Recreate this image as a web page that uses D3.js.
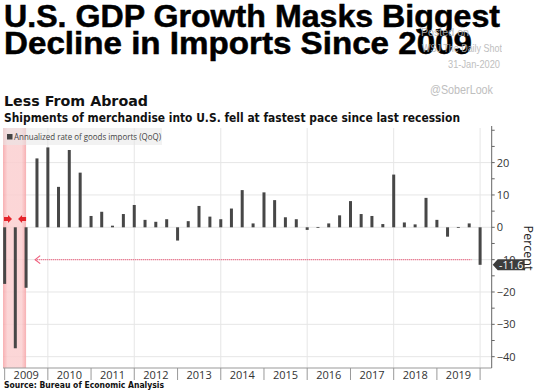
<!DOCTYPE html>
<html><head><meta charset="utf-8">
<script src="https://cdn.jsdelivr.net/npm/d3@7"></script>
<style>body{margin:0;background:#fff}svg{display:block}</style>
</head><body>
<svg id="c" width="536" height="391"></svg>
<script>
const quarters = ["2008Q4","2009Q1","2009Q2","2009Q3","2009Q4","2010Q1","2010Q2","2010Q3","2010Q4",
"2011Q1","2011Q2","2011Q3","2011Q4","2012Q1","2012Q2","2012Q3","2012Q4","2013Q1","2013Q2","2013Q3","2013Q4",
"2014Q1","2014Q2","2014Q3","2014Q4","2015Q1","2015Q2","2015Q3","2015Q4","2016Q1","2016Q2","2016Q3","2016Q4",
"2017Q1","2017Q2","2017Q3","2017Q4","2018Q1","2018Q2","2018Q3","2018Q4","2019Q1","2019Q2","2019Q3","2019Q4"];
const importsGrowth = [-17.5,-37.4,-18.7,21.3,24.7,12.5,23.9,16.9,3.5,
4.8,0.5,4.1,6.9,2.3,1.7,2.5,-4.1,1.9,6.6,3.3,2.5,
5.8,11.5,1.2,10.8,8.4,3.1,2.5,-0.8,0.1,1.2,3.7,8.1,
4.1,3.5,1.0,16.3,1.5,0.9,9.1,2.3,-2.9,0.1,1.2,-11.6];
const yearLabels = ["2009","2010","2011","2012","2013","2014","2015","2016","2017","2018","2019"];
const yTickLabels = [-40,-30,-20,-10,0,10,20];
const yMinorTicks = [-40,-35,-30,-25,-20,-15,-10,-5,0,5,10,15,20,25,30];
const lastValue = -11.6;
const referenceLevel = -10;

function qEnd(q){ const y=+q.slice(0,4), n=+q.slice(5); return new Date(y, n*3, 0); }

const svg = d3.select("#c");
const L=3, R=491.7, T=128, B=368;
const x = d3.scaleTime().domain([new Date(2008,11,17), new Date(2020,3,7)]).range([L,R]);
const y = d3.scaleLinear().domain([-43.5,30.7]).range([B,T]);

function fitText(sel, w){ sel.attr("textLength", w).attr("lengthAdjust","spacingAndGlyphs"); return sel; }

// title
const tg = svg.append("g").attr("font-family","Liberation Sans, Arial, sans-serif").attr("font-weight","bold")
  .attr("fill","#000").attr("stroke","#000").attr("stroke-width",0.5);
fitText(tg.append("text").attr("x",4).attr("y",27).attr("font-size",30.5).text("U.S. GDP Growth Masks Biggest"),496);
fitText(tg.append("text").attr("x",4).attr("y",54).attr("font-size",30.5).text("Decline in Imports Since 2009"),468);

// watermark (on top, translucent)
const wm = svg.append("g").attr("fill","#b4b4b4").attr("opacity",0.85).attr("font-family","Liberation Sans, Arial, sans-serif");
fitText(wm.append("text").attr("x",421).attr("y",36).attr("font-size",11).text("Posted on"),48);
fitText(wm.append("text").attr("x",422).attr("y",52).attr("font-size",11).text("WSJ The Daily Shot"),80);
fitText(wm.append("text").attr("x",448).attr("y",68).attr("font-size",10.5).text("31-Jan-2020"),52);
fitText(wm.append("text").attr("x",430).attr("y",94).attr("font-size",12).text("@SoberLook"),63);

fitText(svg.append("text").attr("x",4).attr("y",106).attr("font-family","DejaVu Sans, Verdana, sans-serif")
  .attr("font-weight","bold").attr("font-size",14.5).attr("fill","#111").text("Less From Abroad"),144);
fitText(svg.append("text").attr("x",4).attr("y",122).attr("font-family","DejaVu Sans, Verdana, sans-serif")
  .attr("font-weight","bold").attr("font-size",11.5).attr("fill","#111")
  .text("Shipments of merchandise into U.S. fell at fastest pace since last recession"),456);

// grid
const grid = svg.append("g");
grid.selectAll("line.h").data(yTickLabels).join("line")
  .attr("x1",L).attr("x2",R).attr("y1",d=>y(d)).attr("y2",d=>y(d)).attr("stroke","#e6e6e6").attr("stroke-width",1);
const gridYears = d3.range(2010,2021,2);
grid.selectAll("line.v").data(gridYears).join("line")
  .attr("x1",d=>x(new Date(d-1,11,31))).attr("x2",d=>x(new Date(d-1,11,31)))
  .attr("y1",T).attr("y2",B).attr("stroke","#e6e6e6");

// recession band
const bx0 = x.range()[0], bx1 = x(new Date(2009,5,30));
const defs = svg.append("defs");
const grad = defs.append("linearGradient").attr("id","rg");
grad.append("stop").attr("offset","0%").attr("stop-color","#f6a3a6");
grad.append("stop").attr("offset","20%").attr("stop-color","#fbcfd0");
grad.append("stop").attr("offset","80%").attr("stop-color","#fbcfd0");
grad.append("stop").attr("offset","100%").attr("stop-color","#f6a3a6");
svg.append("rect").attr("x",bx0).attr("y",T).attr("width",bx1-bx0).attr("height",B-T).attr("fill","url(#rg)").attr("opacity",0.85);

// legend
svg.append("rect").attr("x",3).attr("y",128).attr("width",159).attr("height",17).attr("fill","#e8e8e8").attr("opacity",0.55);
svg.append("rect").attr("x",7).attr("y",134).attr("width",5.5).attr("height",5.5).attr("fill","#444");
fitText(svg.append("text").attr("x",14).attr("y",140).attr("font-family","Open Sans, Liberation Sans, sans-serif")
  .attr("font-size",9).attr("fill","#444").text("Annualized rate of goods imports (QoQ)"),147);

// bars
const bw = 3;
svg.append("g").selectAll("rect").data(quarters).join("rect")
  .attr("x",(d)=>x(qEnd(d))-bw/2)
  .attr("y",(d,i)=>y(Math.max(0,importsGrowth[i])))
  .attr("width",bw)
  .attr("height",(d,i)=>Math.max(0.8,Math.abs(y(importsGrowth[i])-y(0))))
  .attr("fill","#474747");

// recession markers
const my = 219;
const mk = svg.append("g").attr("fill","#e5242b");
mk.append("path").attr("d",`M${bx0+1},${my-2}L${bx0+5},${my-2}L${bx0+5},${my-4}L${bx0+9},${my}L${bx0+5},${my+4}L${bx0+5},${my+2}L${bx0+1},${my+2}Z`);
mk.append("path").attr("d",`M${bx1},${my-2}L${bx1-4},${my-2}L${bx1-4},${my-4}L${bx1-8},${my}L${bx1-4},${my+4}L${bx1-4},${my+2}L${bx1},${my+2}Z`);

// reference arrow
const ry = y(referenceLevel);
const ax0 = x(new Date(2009,8,15)), ax1 = x(new Date(2019,9,20));
svg.append("line").attr("x1",ax0).attr("x2",ax1).attr("y1",ry).attr("y2",ry)
  .attr("stroke","#f0607e").attr("stroke-width",1.4).attr("stroke-dasharray","1,1");
svg.append("path").attr("d",`M${ax0+5},${ry-4}L${ax0},${ry}L${ax0+5},${ry+4}`)
  .attr("fill","none").attr("stroke","#f0607e").attr("stroke-width",1.2);

// x axis
svg.append("line").attr("x1",L).attr("x2",R).attr("y1",B).attr("y2",B).attr("stroke","#999");
const yearBounds = d3.range(2009,2021).map(yr=>new Date(yr-1,11,31));
svg.append("g").selectAll("line").data(yearBounds).join("line")
  .attr("x1",d=>x(d)).attr("x2",d=>x(d)).attr("y1",B).attr("y2",B+12).attr("stroke","#999");
svg.append("g").selectAll("text").data(yearLabels).join("text")
  .attr("x",d=>x(new Date(+d,6,1))).attr("y",379).attr("text-anchor","middle")
  .attr("font-family","Open Sans, Liberation Sans, sans-serif").attr("font-size",11).attr("fill","#333").text(d=>d);

// y axis right
const ya = svg.append("g").attr("transform",`translate(${R},0)`);
ya.append("line").attr("y1",T-2).attr("y2",B).attr("stroke","#666");
ya.selectAll("line.m").data(yMinorTicks).join("line").attr("class","m")
  .attr("x1",0).attr("x2",3).attr("y1",d=>y(d)).attr("y2",d=>y(d)).attr("stroke","#666");
ya.call(d3.axisRight(y).tickValues(yTickLabels).tickSize(0).tickPadding(5).tickFormat(d3.format("d")))
  .call(g=>g.select(".domain").remove())
  .call(g=>g.selectAll("text").attr("font-family","Open Sans, Liberation Sans, sans-serif").attr("font-size",11).attr("fill","#333"));

// last value label
const ly = y(lastValue);
svg.append("path").attr("d",`M${R+1},${ly}L${R+6},${ly-5.5}L${R+33},${ly-5.5}L${R+33},${ly+5.5}L${R+6},${ly+5.5}Z`).attr("fill","#3d3d3d");
svg.append("text").attr("x",R+19.5).attr("y",ly+4).attr("text-anchor","middle")
  .attr("font-family","Open Sans, Liberation Sans, sans-serif").attr("font-size",10.5).attr("fill","#fff").text(d3.format(".1f")(lastValue).replace("−","-"));

// Percent
svg.append("text").attr("transform","translate(524,248) rotate(90)").attr("text-anchor","middle")
  .attr("font-family","Open Sans, Liberation Sans, sans-serif").attr("font-size",12.5).attr("fill","#222").text("Percent");

// source
fitText(svg.append("text").attr("x",4).attr("y",388).attr("font-family","DejaVu Sans, Verdana, sans-serif")
  .attr("font-weight","bold").attr("font-size",9).attr("fill","#111").text("Source: Bureau of Economic Analysis"),160);
</script>
</body></html>
